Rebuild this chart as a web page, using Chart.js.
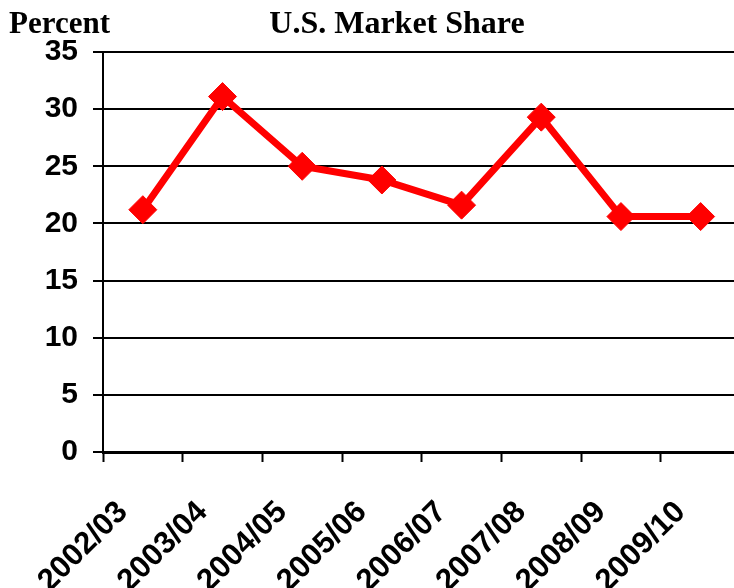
<!DOCTYPE html>
<html>
<head>
<meta charset="utf-8">
<script src="https://cdn.jsdelivr.net/npm/chart.js@4"></script>
<style>
  html, body { margin: 0; padding: 0; background: #fff; overflow: hidden; }
  #wrap { position: relative; width: 734px; height: 588px; overflow: hidden; }
</style>
</head>
<body>
<div id="wrap">
  <canvas id="shareChart" width="760" height="588"></canvas>
</div>
<script>
// U.S. market share by marketing year
const seasons = ["2002/03", "2003/04", "2004/05", "2005/06", "2006/07", "2007/08", "2008/09", "2009/10"];
const shares = [21.2, 31.1, 25.0, 23.8, 21.6, 29.3, 20.6, 20.6];
const chartTitle = "U.S. Market Share";
const unitLabel = "Percent";

/**
 * Draw the title and unit label above the plot.
 */
const headerPlugin = {
  id: "header",
  afterDraw(chart) {
    const ctx = chart.ctx;
    ctx.save();
    ctx.fillStyle = "#000";
    ctx.font = "bold 31px 'Liberation Serif', 'Times New Roman', serif";
    ctx.textBaseline = "alphabetic";
    ctx.textAlign = "left";
    ctx.fillText(unitLabel, 9, 33);
    ctx.font = "bold 32px 'Liberation Serif', 'Times New Roman', serif";
    ctx.textAlign = "center";
    ctx.fillText(chartTitle, 397, 33);
    ctx.restore();
  }
};

new Chart(document.getElementById("shareChart"), {
  type: "line",
  data: {
    labels: seasons,
    datasets: [{
      label: "Market share",
      data: shares,
      borderColor: "#ff0000",
      backgroundColor: "#ff0000",
      borderWidth: 7,
      pointStyle: "rectRot",
      pointRadius: 14,
      pointBorderWidth: 1,
      pointBackgroundColor: "#ff0000",
      pointBorderColor: "#ff0000",
      tension: 0
    }]
  },
  options: {
    responsive: false,
    animation: false,
    layout: { padding: { top: 52, right: 17, left: 0, bottom: 0 } },
    plugins: {
      legend: { display: false },
      tooltip: { enabled: false }
    },
    scales: {
      x: {
        offset: true,
        grid: {
          offset: true,
          drawOnChartArea: false,
          drawTicks: true,
          tickLength: 10,
          tickWidth: 2,
          tickColor: "#000"
        },
        border: { display: true, color: "#000", width: 3 },
        ticks: {
          autoSkip: false,
          minRotation: 45,
          maxRotation: 45,
          labelOffset: -20,
          padding: 32,
          color: "#000",
          font: { family: "'Liberation Sans', Arial, sans-serif", size: 31, weight: "bold" }
        },
        afterFit(scale) { scale.height = 136; }
      },
      y: {
        min: 0,
        max: 35,
        ticks: {
          stepSize: 5,
          padding: 15,
          color: "#000",
          font: { family: "'Liberation Sans', Arial, sans-serif", size: 30, weight: "bold" }
        },
        grid: {
          color: "#000",
          lineWidth: 2,
          tickLength: 10,
          tickColor: "#000",
          tickWidth: 2
        },
        border: { display: true, color: "#000", width: 2 },
        afterFit(scale) { scale.width = 103; }
      }
    }
  },
  plugins: [headerPlugin]
});
</script>
</body>
</html>
